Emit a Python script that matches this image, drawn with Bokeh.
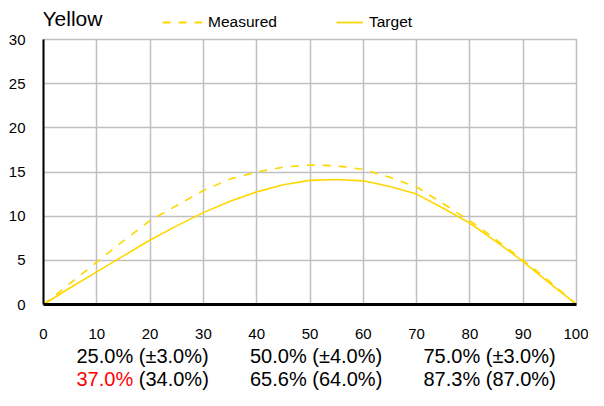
import numpy as np
from bokeh.plotting import figure
from bokeh.models import Range1d, FixedTicker, Legend, LegendItem, ColumnDataSource
from bokeh.layouts import column
from bokeh.core.properties import value
from bokeh.embed import file_html
from bokeh.resources import INLINE

# ---- data ----
x_vals = [0, 5, 10, 15, 20, 25, 30, 35, 40, 45, 50, 55, 60, 65, 70, 75, 80, 85, 90, 95, 100]
measured = [0, 2.4, 4.8, 7.2, 9.5, 11.2, 12.9, 14.2, 15.0, 15.55, 15.8, 15.7, 15.3, 14.4, 13.3, 11.4, 9.5, 7.3, 5.0, 2.6, 0]
target = [0, 1.9, 3.7, 5.5, 7.3, 8.9, 10.4, 11.7, 12.75, 13.55, 14.05, 14.15, 14.0, 13.35, 12.5, 10.9, 9.2, 7.1, 4.85, 2.4, 0]
x_ticks = [0, 10, 20, 30, 40, 50, 60, 70, 80, 90, 100]
y_ticks = [0, 5, 10, 15, 20, 25, 30]

title_text = "Yellow"
series_names = ["Measured", "Target"]
target_levels = [25.0, 50.0, 75.0]
tolerances = [3.0, 4.0, 3.0]
measured_levels = [37.0, 65.6, 87.3]
expected_levels = [34.0, 64.0, 87.0]

YELLOW = "#FFD700"
GRID = "#BFBFBF"
FONT = "Liberation Sans"
W = 588
LEFT, RIGHT = 43, 12          # frame borders shared by all stacked figures
DASH = "8 8"


def bare(h):
    # frame spans page pixels LEFT..W-RIGHT horizontally, 0..h vertically
    f = figure(width=W, height=h, output_backend="svg", toolbar_location=None,
               title=None,
               x_range=Range1d(LEFT, W - RIGHT), y_range=Range1d(0, h),
               x_axis_type=None, y_axis_type=None,
               min_border_left=LEFT, min_border_right=RIGHT,
               min_border_top=0, min_border_bottom=0)
    f.grid.visible = False
    f.outline_line_color = None
    f.background_fill_color = "white"
    f.border_fill_color = "white"
    return f


# ---- header: title + legend ----
H0 = 31
p0 = bare(H0)
p0.text(x=[LEFT - 1], y=[H0 - 18.4], text=[title_text], text_font=value(FONT),
        text_font_size="21px", text_color="black",
        text_baseline="middle", text_align="left")
nan = np.array([np.nan])
d_meas = p0.line(x=nan, y=nan, line_color=YELLOW, line_width=1.8, line_dash=DASH)
d_targ = p0.line(x=nan, y=nan, line_color=YELLOW, line_width=1.8)
leg_common = dict(orientation="horizontal", padding=0, margin=0, spacing=0,
                  border_line_color=None, background_fill_alpha=0,
                  label_text_font=FONT, label_text_font_size="15.5px",
                  label_text_color="black", glyph_height=18, label_height=18,
                  label_standoff=6)
p0.add_layout(Legend(items=[LegendItem(label=series_names[0], renderers=[d_meas])],
                     location=(162 - LEFT, 0), glyph_width=40, **leg_common))
p0.add_layout(Legend(items=[LegendItem(label=series_names[1], renderers=[d_targ])],
                     location=(336 - LEFT, 0), glyph_width=27, **leg_common))

# ---- main chart ----
p = figure(width=W, height=311, output_backend="svg", toolbar_location=None,
           x_range=Range1d(0, 100), y_range=Range1d(0, 30),
           min_border_left=LEFT, min_border_right=RIGHT, min_border_top=8, min_border_bottom=38)
p.background_fill_color = "white"
p.border_fill_color = "white"
p.outline_line_color = GRID
p.outline_line_width = 1.5

for ax in (p.xaxis[0], p.yaxis[0]):
    ax.axis_line_color = "black"
    ax.major_tick_line_color = None
    ax.minor_tick_line_color = None
    ax.major_label_text_font = FONT
    ax.major_label_text_font_size = "15px"
    ax.major_label_text_color = "black"
p.xaxis[0].axis_line_width = 3
p.yaxis[0].axis_line_width = 2
p.xaxis[0].ticker = FixedTicker(ticks=x_ticks)
p.yaxis[0].ticker = FixedTicker(ticks=y_ticks)
p.xaxis[0].major_label_text_align = "left"
p.xaxis[0].major_label_standoff = 18
p.yaxis[0].major_label_standoff = 12

p.xgrid.ticker = FixedTicker(ticks=x_ticks)
p.ygrid.ticker = FixedTicker(ticks=y_ticks)
for g in (p.xgrid[0], p.ygrid[0]):
    g.grid_line_color = GRID
    g.grid_line_width = 1.5

p.line(x_vals, measured, line_color=YELLOW, line_width=1.6, line_dash=DASH)
p.line(x_vals, target, line_color=YELLOW, line_width=1.6)

# ---- summary rows under the chart ----
H2 = 48
col_start = [76, 249.5, 423]
val_width = (2.835 + 0.278) * 20
row1_y, row2_y = 35, 11.5

txt_x, txt_y, txt, txt_c = [], [], [], []
for i in range(3):
    txt_x.append(col_start[i]); txt_y.append(row1_y)
    txt.append(f"{target_levels[i]:.1f}% (±{tolerances[i]:.1f}%)"); txt_c.append("black")
    bad = abs(measured_levels[i] - expected_levels[i]) >= tolerances[i]
    txt_x.append(col_start[i]); txt_y.append(row2_y)
    txt.append(f"{measured_levels[i]:.1f}%"); txt_c.append("red" if bad else "black")
    txt_x.append(col_start[i] + val_width); txt_y.append(row2_y)
    txt.append(f"({expected_levels[i]:.1f}%)"); txt_c.append("black")

p2 = bare(H2)
p2.text(x="x", y="y", text="t", text_color="c",
        source=ColumnDataSource(dict(x=txt_x, y=txt_y, t=txt, c=txt_c)),
        text_font=value(FONT), text_font_size="20px",
        text_baseline="middle", text_align="left")

layout = column(p0, p, p2, spacing=0)
open("out.html", "w").write(file_html(layout, INLINE))
